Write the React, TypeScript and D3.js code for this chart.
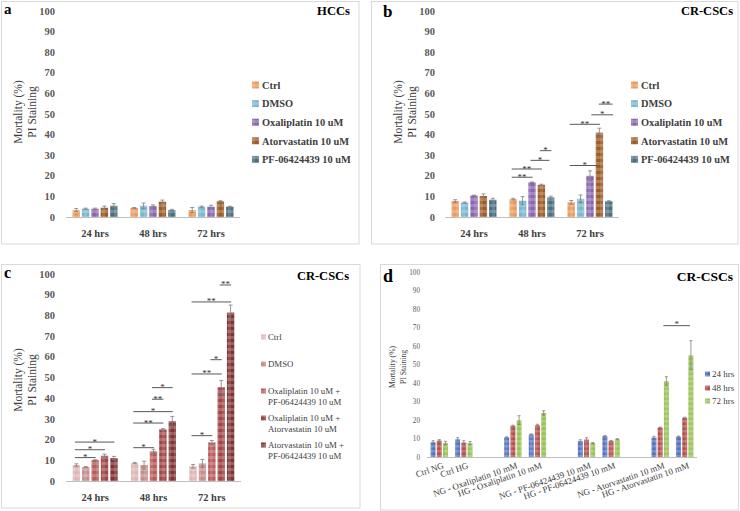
import React from "react";
import * as d3 from "d3";

const FONT = "'Liberation Serif', 'Times New Roman', serif";

// ---------- shared ----------
const timeLabels = ["24 hrs", "48 hrs", "72 hrs"];
const yTickValues = [0, 10, 20, 30, 40, 50, 60, 70, 80, 90, 100];

// ---------- panels a & b ----------
const drugSeries = ["Ctrl", "DMSO", "Oxaliplatin 10 uM", "Atorvastatin 10 uM", "PF-06424439 10 uM"];
const drugColors = ["#EA9C5E", "#7AB6D1", "#8966AE", "#9C5B27", "#4C6F80"];

// values[series][time]
const hccValues = [
  [3.4, 4.4, 3.4],
  [4.0, 5.5, 5.0],
  [4.0, 5.4, 5.0],
  [4.5, 7.4, 7.6],
  [5.5, 3.4, 5.0],
];
const hccErrors = [
  [0.7, 0.2, 1.2],
  [0.3, 1.3, 0.3],
  [0.3, 0.5, 0.7],
  [0.8, 0.8, 0.3],
  [1.0, 0.3, 0.2],
];

const crscValues = [
  [7.8, 8.7, 7.1],
  [7.0, 7.9, 8.9],
  [10.4, 16.8, 20.0],
  [10.2, 15.6, 41.0],
  [8.4, 9.5, 7.6],
];
const crscErrors = [
  [0.6, 0.4, 0.9],
  [0.3, 2.0, 1.8],
  [0.2, 0.2, 2.4],
  [1.0, 0.3, 2.1],
  [0.7, 0.6, 0.3],
];
// significance: group, from-series, to-series, height, label
const crscSigGroup = [1, 1, 1, 1, 2, 2, 2, 2];
const crscSigFrom = [0, 0, 2, 3, 0, 0, 2.3, 3.1];
const crscSigTo = [2, 3, 3.8, 4, 3, 3, 4.4, 4.35];
const crscSigY = [19.3, 23.3, 27.5, 32.2, 25, 45, 49.6, 54.8];
const crscSigLabel = ["**", "**", "*", "*", "*", "**", "*", "**"];

// ---------- panel c ----------
const comboLegend = [
  ["Ctrl"],
  ["DMSO"],
  ["Oxaliplatin 10 uM +", "PF-06424439 10 uM"],
  ["Oxaliplatin 10 uM +", "Atorvastatin 10 uM"],
  ["Atorvastatin 10 uM +", "PF-06424439 10 uM"],
];
const comboColors = ["#DDB6B7", "#C68D8E", "#B85B5B", "#A04646", "#803434"];
const comboValues = [
  [7.7, 8.7, 7.1],
  [6.7, 7.7, 8.5],
  [10.1, 14.4, 18.6],
  [12.2, 24.9, 45.3],
  [11.1, 28.9, 81.4],
];
const comboErrors = [
  [0.6, 0.3, 0.9],
  [0.3, 1.9, 1.9],
  [0.2, 0.9, 1.0],
  [0.8, 0.4, 3.3],
  [0.8, 2.3, 3.6],
];
const comboSigGroup = [0, 0, 0, 1, 1, 1, 1, 1, 2, 2, 2, 2, 2];
const comboSigFrom = [0, 0, 0, 0, 0, 0, 2, 2, 0, 0, 2, 0, 3];
const comboSigTo = [2, 3, 4, 2, 3, 4, 3, 4, 2, 3, 3, 4, 4];
const comboSigY = [11.3, 15.1, 18.8, 16.1, 28.0, 33.5, 39.5, 45.1, 21.9, 51.7, 58.6, 86.5, 94.7];
const comboSigLabel = ["*", "*", "*", "*", "**", "*", "**", "*", "*", "**", "*", "**", "**"];

// ---------- panel d ----------
const glucoseCategories = [
  "Ctrl NG",
  "Ctrl HG",
  "",
  "NG - Oxaliplatin 10 mM",
  "HG - Oxaliplatin 10 mM",
  "",
  "NG - PF-06424439 10 mM",
  "HG - PF-06424439 10 mM",
  "",
  "NG - Atorvastatin 10 mM",
  "HG - Atorvastatin 10 mM",
];
const timeColors = ["#5272BD", "#B44D4B", "#97C157"];
// values[time][category] (blank categories are null)
const glucoseValues = [
  [8.0, 9.5, null, 10.6, 12.2, null, 8.6, 11.3, null, 10.5, 11.0],
  [8.9, 7.8, null, 16.9, 17.2, null, 9.4, 8.7, null, 15.9, 21.2],
  [7.5, 7.5, null, 19.9, 23.8, null, 7.5, 9.6, null, 41.0, 55.0],
];
const glucoseErrors = [
  [0.8, 0.9, null, 0.3, 0.3, null, 0.7, 0.3, null, 0.7, 0.3],
  [0.5, 1.0, null, 0.3, 0.5, null, 1.0, 0.2, null, 0.2, 0.3],
  [1.0, 0.9, null, 2.4, 1.2, null, 0.3, 0.3, null, 2.4, 7.9],
];
const glucoseSigFromCat = [9];
const glucoseSigToCat = [10];
const glucoseSigSeries = [2];
const glucoseSigY = [71];
const glucoseSigLabel = ["*"];

// ---------- helpers ----------
function Pattern({ id, color, size = 6 }: { id: string; color: string; size?: number }) {
  const h = size / 2;
  return (
    <pattern id={id} width={size} height={size} patternUnits="userSpaceOnUse">
      <rect width={size} height={size} fill={color} />
      <rect width={size} height={h} fill="#fff" opacity={0.2} />
      <rect width={h} height={size} fill="#fff" opacity={0.12} />
    </pattern>
  );
}

const GRID = "#D9D9D9";
const AXIS = "#BFBFBF";
const TXT = "#404040";
const TICK = "#595959";
const ERR = "#7F7F7F";
const SIG = "#595959";

type GroupedProps = {
  prefix: string;
  cats: string[];
  xRange: [number, number];
  yRange: [number, number];
  innerHalf: number;
  innerPad: number;
  values: (number | null)[][];
  errors: (number | null)[][];
  colors: string[];
  capW: number;
  sigGroup: number[];
  sigFrom: number[];
  sigTo: number[];
  sigY: number[];
  sigLabel: string[];
};

function GroupedBars(p: GroupedProps) {
  const x0 = d3.scaleBand<number>().domain(d3.range(p.cats.length)).range(p.xRange).padding(0);
  const x1 = d3
    .scaleBand<number>()
    .domain(d3.range(p.values.length))
    .range([-p.innerHalf, p.innerHalf])
    .paddingInner(p.innerPad);
  const y = d3.scaleLinear().domain([0, 100]).range(p.yRange);
  const step = x1.step();
  const pos = (g: number, s: number) =>
    (x0(g) as number) + x0.bandwidth() / 2 - p.innerHalf + x1.bandwidth() / 2 + s * step;
  const out: React.ReactNode[] = [];
  p.values.forEach((row, s) => {
    row.forEach((v, g) => {
      if (v == null) return;
      const cx = pos(g, s);
      const bw = x1.bandwidth();
      out.push(
        <rect
          key={`b${s}-${g}`}
          x={cx - bw / 2}
          y={y(v)}
          width={bw}
          height={y(0) - y(v)}
          fill={`url(#${p.prefix}${s})`}
        />
      );
      const e = p.errors[s][g] as number;
      const top = y(v + e);
      const bot = y(v - e);
      out.push(
        <g key={`e${s}-${g}`} stroke={ERR} strokeWidth={0.8}>
          <line x1={cx} x2={cx} y1={top} y2={bot} />
          <line x1={cx - p.capW / 2} x2={cx + p.capW / 2} y1={top} y2={top} />
          <line x1={cx - p.capW / 2} x2={cx + p.capW / 2} y1={bot} y2={bot} />
        </g>
      );
    });
  });
  p.sigY.forEach((v, i) => {
    const g = p.sigGroup[i];
    const xa = pos(g, p.sigFrom[i]) - 1.5;
    const xb = pos(g, p.sigTo[i]) + 0.5;
    const yy = y(v);
    out.push(
      <g key={`s${i}`}>
        <line x1={xa} x2={xb} y1={yy} y2={yy} stroke={SIG} strokeWidth={1} />
        <text x={(xa + xb) / 2} y={yy + 2.5} fontSize={9} textAnchor="middle" fill="#333">
          {p.sigLabel[i]}
        </text>
      </g>
    );
  });
  return <g>{out}</g>;
}

function YAxisLabels({ x, yRange, size, bold }: { x: number; yRange: [number, number]; size: number; bold: boolean }) {
  const y = d3.scaleLinear().domain([0, 100]).range(yRange);
  return (
    <g>
      {yTickValues.map((t) => (
        <text
          key={t}
          x={x}
          y={y(t) + size * 0.35}
          textAnchor="end"
          fontSize={size}
          fontWeight={bold ? "bold" : "normal"}
          fill={TICK}
        >
          {t}
        </text>
      ))}
    </g>
  );
}

function AxisTitle({ x1, x2, cy, size }: { x1: number; x2: number; cy: number; size: number }) {
  return (
    <g fontSize={size} fill={TXT}>
      <text transform={`translate(${x1 + size * 0.35},${cy}) rotate(-90)`} textAnchor="middle">
        Mortality (%)
      </text>
      <text transform={`translate(${x2 + size * 0.35},${cy}) rotate(-90)`} textAnchor="middle">
        PI Staining
      </text>
    </g>
  );
}

function CatLabels({ xRange, y, size }: { xRange: [number, number]; y: number; size: number }) {
  const x0 = d3.scaleBand<string>().domain(timeLabels).range(xRange);
  return (
    <g>
      {timeLabels.map((c) => (
        <text
          key={c}
          x={(x0(c) as number) + x0.bandwidth() / 2}
          y={y}
          textAnchor="middle"
          fontSize={size}
          fontWeight="bold"
          fill={TXT}
        >
          {c}
        </text>
      ))}
    </g>
  );
}

export default function App() {
  const yAB: [number, number] = [217, 11];
  const yC: [number, number] = [481, 274];
  const yD: [number, number] = [457, 272];
  const xA: [number, number] = [66, 240];
  const xB: [number, number] = [445, 619];
  const xC: [number, number] = [66, 241];
  const xD: [number, number] = [427, 697];

  const xDband = d3.scaleBand<number>().domain(d3.range(glucoseCategories.length)).range(xD);
  const yDscale = d3.scaleLinear().domain([0, 100]).range(yD);

  const legendRowsAB = d3.range(drugSeries.length).map((i) => 85 + i * 18.6);
  const legendRowsC = [337, 364, 391, 418, 445];
  const legendRowsD = [374, 388, 401];

  return (
    <svg
      width={740}
      height={511}
      style={{ position: "absolute", left: 0, top: 0, background: "#fff" }}
      fontFamily={FONT}
    >
      <defs>
        {drugColors.map((c, i) => (
          <Pattern key={`pa${i}`} id={`pa${i}`} color={c} />
        ))}
        {comboColors.map((c, i) => (
          <Pattern key={`pc${i}`} id={`pc${i}`} color={c} />
        ))}
        {timeColors.map((c, i) => (
          <Pattern key={`pd${i}`} id={`pd${i}`} color={c} size={5} />
        ))}
      </defs>
      <rect x={0} y={0} width={740} height={511} fill="#fff" />

      {/* panel borders */}
      <rect x={1.5} y={1.5} width={357.5} height={242.5} fill="none" stroke={GRID} />
      <rect x={371.5} y={1.5} width={366.5} height={242.5} fill="none" stroke={GRID} />
      <rect x={1.5} y={264.5} width={358.5} height={243.5} fill="none" stroke={GRID} />
      <rect x={380.5} y={264.5} width={358} height={245.5} fill="none" stroke={GRID} />

      {/* ===== panel a ===== */}
      <text x={4} y={14} fontSize={15} fontWeight="bold" fill="#000">a</text>
      <text x={350} y={15} fontSize={12.6} fontWeight="bold" fill="#000" textAnchor="end">HCCs</text>
      <YAxisLabels x={55} yRange={yAB} size={10.5} bold />
      <AxisTitle x1={18} x2={32} cy={112} size={11.5} />
      <line x1={xA[0]} x2={xA[1]} y1={217.5} y2={217.5} stroke={AXIS} />
      <GroupedBars
        prefix="pa"
        cats={timeLabels}
        xRange={xA}
        yRange={yAB}
        innerHalf={22.5}
        innerPad={0.21}
        values={hccValues}
        errors={hccErrors}
        colors={drugColors}
        capW={4}
        sigGroup={[]}
        sigFrom={[]}
        sigTo={[]}
        sigY={[]}
        sigLabel={[]}
      />
      <CatLabels xRange={xA} y={237} size={10.4} />
      {drugSeries.map((s, i) => (
        <g key={`la${i}`}>
          <rect x={252} y={legendRowsAB[i] - 3.5} width={7} height={7} fill={`url(#pa${i})`} />
          <text x={262} y={legendRowsAB[i] + 3.7} fontSize={10.4} fontWeight="bold" fill={TXT}>{s}</text>
        </g>
      ))}

      {/* ===== panel b ===== */}
      <text x={383} y={17} fontSize={17} fontWeight="bold" fill="#000">b</text>
      <text x={733} y={15} fontSize={12.5} fontWeight="bold" fill="#000" textAnchor="end">CR-CSCs</text>
      <YAxisLabels x={435} yRange={yAB} size={10.5} bold />
      <AxisTitle x1={398} x2={412} cy={112} size={11.5} />
      <line x1={xB[0]} x2={xB[1]} y1={217.5} y2={217.5} stroke={AXIS} />
      <GroupedBars
        prefix="pa"
        cats={timeLabels}
        xRange={xB}
        yRange={yAB}
        innerHalf={22.5}
        innerPad={0.21}
        values={crscValues}
        errors={crscErrors}
        colors={drugColors}
        capW={4}
        sigGroup={crscSigGroup}
        sigFrom={crscSigFrom}
        sigTo={crscSigTo}
        sigY={crscSigY}
        sigLabel={crscSigLabel}
      />
      <CatLabels xRange={xB} y={237} size={10.4} />
      {drugSeries.map((s, i) => (
        <g key={`lb${i}`}>
          <rect x={631} y={legendRowsAB[i] - 3.5} width={7} height={7} fill={`url(#pa${i})`} />
          <text x={641} y={legendRowsAB[i] + 3.7} fontSize={10.4} fontWeight="bold" fill={TXT}>{s}</text>
        </g>
      ))}

      {/* ===== panel c ===== */}
      <text x={4} y={278} fontSize={16} fontWeight="bold" fill="#000">c</text>
      <text x={349} y={280} fontSize={12.5} fontWeight="bold" fill="#000" textAnchor="end">CR-CSCs</text>
      <YAxisLabels x={55} yRange={yC} size={10.5} bold />
      <AxisTitle x1={18} x2={32} cy={380} size={11.5} />
      <line x1={xC[0]} x2={xC[1]} y1={481.5} y2={481.5} stroke={AXIS} />
      <GroupedBars
        prefix="pc"
        cats={timeLabels}
        xRange={xC}
        yRange={yC}
        innerHalf={22.5}
        innerPad={0.21}
        values={comboValues}
        errors={comboErrors}
        colors={comboColors}
        capW={4}
        sigGroup={comboSigGroup}
        sigFrom={comboSigFrom}
        sigTo={comboSigTo}
        sigY={comboSigY}
        sigLabel={comboSigLabel}
      />
      <CatLabels xRange={xC} y={500.5} size={10.4} />
      {comboLegend.map((lines, i) => (
        <g key={`lc${i}`}>
          <rect x={261} y={legendRowsC[i] - 2.5} width={5} height={5} fill={`url(#pc${i})`} />
          {lines.map((t, j) => (
            <text key={j} x={268} y={legendRowsC[i] + 3 + j * 10.5} fontSize={8.8} fill={TXT}>{t}</text>
          ))}
        </g>
      ))}

      {/* ===== panel d ===== */}
      <text x={383} y={282} fontSize={18} fontWeight="bold" fill="#000">d</text>
      <text x={733} y={281} fontSize={13.5} fontWeight="bold" fill="#000" textAnchor="end">CR-CSCs</text>
      <YAxisLabels x={420} yRange={yD} size={7.2} bold={false} />
      <AxisTitle x1={392} x2={403} cy={367} size={7.6} />
      <line x1={xD[0]} x2={xD[1]} y1={457.5} y2={457.5} stroke={AXIS} />
      <GroupedBars
        prefix="pd"
        cats={glucoseCategories}
        xRange={xD}
        yRange={yD}
        innerHalf={8.7}
        innerPad={0.19}
        values={glucoseValues}
        errors={glucoseErrors}
        colors={timeColors}
        capW={3}
        sigGroup={[]}
        sigFrom={[]}
        sigTo={[]}
        sigY={[]}
        sigLabel={[]}
      />
      {glucoseSigY.map((v, i) => {
        const inner = 6.2;
        const xa = (xDband(glucoseSigFromCat[i]) as number) + xDband.bandwidth() / 2 + (glucoseSigSeries[i] - 1) * inner - 3;
        const xb = (xDband(glucoseSigToCat[i]) as number) + xDband.bandwidth() / 2 + (glucoseSigSeries[i] - 1) * inner - 1;
        const yy = yDscale(v);
        return (
          <g key={`sd${i}`}>
            <line x1={xa} x2={xb} y1={yy} y2={yy} stroke={SIG} />
            <text x={(xa + xb) / 2} y={yy + 1} fontSize={9} textAnchor="middle" fill="#333">{glucoseSigLabel[i]}</text>
          </g>
        );
      })}
      {glucoseCategories.map((c, i) =>
        c ? (
          <text
            key={`xd${i}`}
            transform={`translate(${(xDband(i) as number) + xDband.bandwidth() / 2 + 5},${468}) rotate(-19)`}
            textAnchor="end"
            fontSize={8.9}
            fill={TXT}
          >
            {c}
          </text>
        ) : null
      )}
      {timeLabels.map((t, i) => (
        <g key={`ld${i}`}>
          <rect x={705} y={legendRowsD[i] - 2.5} width={5} height={5} fill={`url(#pd${i})`} />
          <text x={712} y={legendRowsD[i] + 3} fontSize={9} fill={TXT}>{t}</text>
        </g>
      ))}
    </svg>
  );
}
